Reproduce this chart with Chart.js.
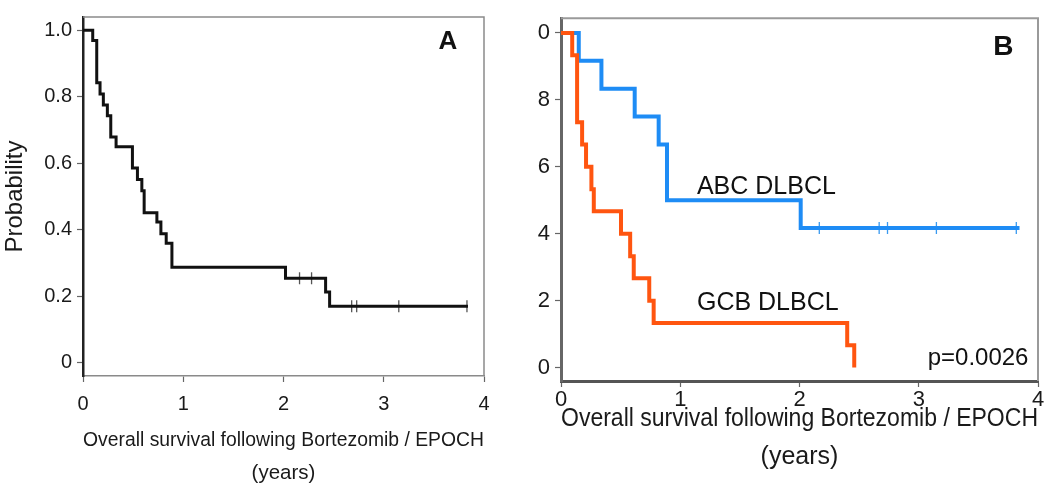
<!DOCTYPE html>
<html>
<head>
<meta charset="utf-8">
<script src="https://cdn.jsdelivr.net/npm/chart.js@4/dist/chart.umd.min.js"></script>
<style>
  html, body { margin: 0; padding: 0; background: #fff; }
  body { width: 1050px; height: 490px; position: relative; overflow: hidden; }
  .panel { position: absolute; top: 0; height: 490px; }
  #pa { left: 0; width: 520px; }
  #pb { left: 520px; width: 530px; }
</style>
</head>
<body>
<div class="panel" id="pa"><canvas id="ca"></canvas></div>
<div class="panel" id="pb"><canvas id="cb"></canvas></div>
<script>
// ---------- data ----------
const xTickValues = [0, 1, 2, 3, 4];
const xTickLabels = ['0', '1', '2', '3', '4'];
const yTickValues = [0, 0.2, 0.4, 0.6, 0.8, 1.0];
const yTickLabelsA = ['0', '0.2', '0.4', '0.6', '0.8', '1.0'];
const yTickLabelsB = ['0', '2', '4', '6', '8', '0'];

// Panel A: overall survival (all patients)
const allTimes = [0, 0.097, 0.137, 0.17, 0.203, 0.243, 0.277, 0.33, 0.493, 0.543, 0.587, 0.61, 0.737, 0.777, 0.83, 0.887, 2.02, 2.42, 2.46, 3.84];
const allSurv  = [1.0, 0.969, 0.842, 0.808, 0.775, 0.743, 0.679, 0.65, 0.586, 0.551, 0.517, 0.451, 0.423, 0.388, 0.359, 0.287, 0.254, 0.213, 0.17, 0.17];
const allCensorTimes = [2.16, 2.28, 2.68, 2.73, 3.15, 3.83];
const allCensorSurv  = [0.254, 0.254, 0.17, 0.17, 0.17, 0.17];

// Panel B: ABC DLBCL
const abcTimes = [0, 0.149, 0.339, 0.618, 0.819, 0.889, 2.01, 3.845];
const abcSurv  = [1.0, 0.917, 0.833, 0.75, 0.667, 0.5, 0.417, 0.417];
const abcCensorTimes = [2.166, 2.668, 2.738, 3.148, 3.818];
const abcCensorSurv  = [0.417, 0.417, 0.417, 0.417, 0.417];

// Panel B: GCB DLBCL
const gcbTimes = [0, 0.094, 0.135, 0.177, 0.21, 0.255, 0.275, 0.503, 0.58, 0.61, 0.74, 0.777, 2.40, 2.459];
const gcbSurv  = [1.0, 0.933, 0.733, 0.667, 0.6, 0.533, 0.467, 0.4, 0.333, 0.267, 0.2, 0.133, 0.067, 0.0];

const pts = (xs, ys) => xs.map((t, i) => ({ x: t, y: ys[i] }));

const NARROW = '"Liberation Sans Narrow", "Arial Narrow", "Liberation Sans", sans-serif';

// ---------- plugins ----------
const framePlugin = {
  id: 'frame',
  beforeDatasetsDraw(chart, args, opts) {
    const { ctx, chartArea: a } = chart;
    ctx.save();
    ctx.strokeStyle = opts.color;
    ctx.lineWidth = opts.width;
    ctx.beginPath();
    ctx.moveTo(a.left, a.top);
    ctx.lineTo(a.right, a.top);
    ctx.lineTo(a.right, a.bottom);
    ctx.stroke();
    ctx.restore();
  }
};
const notesPlugin = {
  id: 'notes',
  afterDatasetsDraw(chart, args, opts) {
    const { ctx, scales } = chart;
    (opts.items || []).forEach(it => {
      ctx.save();
      ctx.font = it.font;
      ctx.fillStyle = it.color || '#111';
      ctx.textAlign = it.align || 'center';
      ctx.textBaseline = 'middle';
      ctx.fillText(it.text, scales.x.getPixelForValue(it.x), scales.y.getPixelForValue(it.y));
      ctx.restore();
    });
  }
};

function fixedTicks(values) {
  return function (scale) { scale.ticks = values.map(v => ({ value: v })); };
}

function makeScales(cfg) {
  return {
    x: {
      type: 'linear', min: 0, max: 4,
      afterBuildTicks: fixedTicks(xTickValues),
      afterFit: s => { s.height = cfg.xHeight; },
      border: { color: cfg.xBorderColor, width: cfg.xBorderWidth },
      grid: { drawOnChartArea: false, drawTicks: true, tickLength: 6, color: cfg.tickColor, tickWidth: 1.2 },
      ticks: {
        color: '#1a1a1a', padding: cfg.xTickPad, maxRotation: 0,
        font: { family: cfg.tickFamily, size: cfg.tickSize },
        callback: (v) => xTickLabels[xTickValues.indexOf(v)]
      },
      title: {
        display: true, color: '#1a1a1a',
        text: ['Overall survival following Bortezomib / EPOCH', '(years)'],
        font: { family: NARROW, size: cfg.titleSize, lineHeight: cfg.titleLH },
        padding: { top: 0, bottom: cfg.titlePadBottom }
      }
    },
    y: {
      type: 'linear', min: -0.04, max: cfg.yMax,
      afterBuildTicks: fixedTicks(yTickValues),
      afterFit: s => { s.width = cfg.yWidth; },
      border: { color: cfg.yBorderColor, width: cfg.yBorderWidth },
      grid: { drawOnChartArea: false, drawTicks: true, tickLength: 6, color: cfg.tickColor, tickWidth: 1.2 },
      ticks: {
        color: '#1a1a1a', padding: 5,
        font: { family: cfg.tickFamily, size: cfg.tickSize },
        callback: (v) => cfg.yLabels[yTickValues.indexOf(v)]
      },
      title: cfg.yTitle ? {
        display: true, text: 'Probability', color: '#1a1a1a',
        font: { family: NARROW, size: 24, lineHeight: 1.1 },
        padding: { top: 2, bottom: 0 }
      } : { display: false }
    }
  };
}

// ---------- Panel A ----------
new Chart(document.getElementById('ca'), {
  type: 'line',
  data: {
    datasets: [
      {
        label: 'All patients', data: pts(allTimes, allSurv),
        stepped: 'before', borderColor: '#111', borderWidth: 3,
        pointRadius: 0, fill: false
      },
      {
        label: 'Censored', data: pts(allCensorTimes, allCensorSurv),
        showLine: false, pointStyle: 'line', rotation: 90, pointRadius: 6,
        borderColor: '#555', borderWidth: 1.3
      }
    ]
  },
  options: {
    responsive: true, maintainAspectRatio: false, animation: false,
    layout: { padding: { left: 0, right: 36, top: 11, bottom: 0 } },
    plugins: {
      legend: { display: false }, tooltip: { enabled: false },
      frame: { color: '#8a8a8a', width: 1.5 },
      notes: { items: [
        { text: 'A', x: 3.64, y: 0.964, font: 'bold 26px "Liberation Sans", Arial, sans-serif', align: 'center' }
      ] }
    },
    scales: makeScales({
      xHeight: 114, yWidth: 83, yMax: 1.04,
      xBorderColor: '#8a8a8a', xBorderWidth: 1.5,
      yBorderColor: '#222', yBorderWidth: 2.5,
      tickColor: '#666', tickFamily: NARROW, tickSize: 20, xTickPad: 10,
      titleSize: 20.5, titleLH: '33px', titlePadBottom: 0,
      yLabels: yTickLabelsA, yTitle: true
    })
  },
  plugins: [framePlugin, notesPlugin]
});

// ---------- Panel B ----------
new Chart(document.getElementById('cb'), {
  type: 'line',
  data: {
    datasets: [
      {
        label: 'GCB DLBCL', data: pts(gcbTimes, gcbSurv),
        stepped: 'before', borderColor: '#FF5510', borderWidth: 4,
        pointRadius: 0, fill: false
      },
      {
        label: 'ABC DLBCL', data: pts(abcTimes, abcSurv),
        stepped: 'before', borderColor: '#1E8CF5', borderWidth: 4,
        pointRadius: 0, fill: false
      },
      {
        label: 'ABC censored', data: pts(abcCensorTimes, abcCensorSurv),
        showLine: false, pointStyle: 'line', rotation: 90, pointRadius: 6,
        borderColor: '#3a9af0', borderWidth: 1.3
      }
    ]
  },
  options: {
    responsive: true, maintainAspectRatio: false, animation: false,
    layout: { padding: { left: 0, right: 12, top: 7, bottom: 0 } },
    plugins: {
      legend: { display: false }, tooltip: { enabled: false },
      frame: { color: '#9a9a9a', width: 2 },
      notes: { items: [
        { text: 'B', x: 3.71, y: 0.957, font: 'bold 28px "Liberation Sans", Arial, sans-serif', align: 'center' },
        { text: 'ABC DLBCL', x: 1.14, y: 0.54, font: '25px ' + NARROW, align: 'left' },
        { text: 'GCB DLBCL', x: 1.14, y: 0.194, font: '25px ' + NARROW, align: 'left' },
        { text: 'p=0.0026', x: 3.92, y: 0.029, font: '24px ' + NARROW, align: 'right' }
      ] }
    },
    scales: makeScales({
      xHeight: 109, yWidth: 41, yMax: 1.044,
      xBorderColor: '#555', xBorderWidth: 3,
      yBorderColor: '#666', yBorderWidth: 3,
      tickColor: '#666', tickFamily: NARROW, tickSize: 22, xTickPad: 0,
      titleSize: 25, titleLH: '38px', titlePadBottom: 14,
      yLabels: yTickLabelsB, yTitle: false
    })
  },
  plugins: [framePlugin, notesPlugin]
});
</script>
</body>
</html>
